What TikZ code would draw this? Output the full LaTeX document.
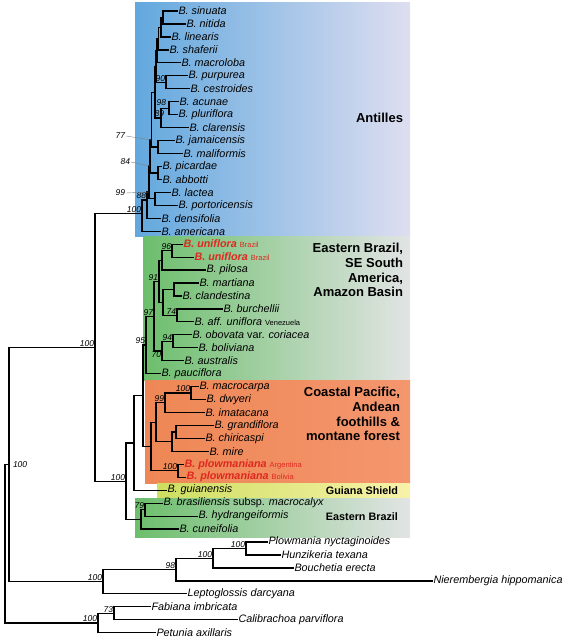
\documentclass[tikz,border=0pt]{standalone}
\usepackage{fontspec}
\setmainfont{Liberation Sans}
\definecolor{nred}{RGB}{222,40,30}
\definecolor{antL}{RGB}{98,168,222}
\definecolor{antR}{RGB}{222,222,240}
\definecolor{grnL}{RGB}{108,190,108}
\definecolor{grnR}{RGB}{226,228,228}
\definecolor{orgL}{RGB}{238,135,85}
\definecolor{orgR}{RGB}{244,150,110}
\definecolor{ylwL}{RGB}{206,222,96}
\definecolor{ylwR}{RGB}{248,242,170}
\newcommand{\place}[1]{{\fontsize{7.5}{9}\selectfont\upshape\mdseries #1}}
\begin{document}
\begin{tikzpicture}[x=1pt,y=-1pt,inner sep=0pt,outer sep=0pt,line width=1.2pt,line cap=rect,
leaf/.style={anchor=west,inner sep=1.5pt,font=\fontsize{10.8}{12}\selectfont\itshape},
redleaf/.style={leaf,text=nred,font=\fontsize{10.8}{12}\selectfont\bfseries\itshape},
bs/.style={anchor=south east,inner sep=1pt,font=\fontsize{8.5}{10}\selectfont\itshape},
region/.style={anchor=east,align=right,font=\fontsize{13}{14.7}\selectfont\bfseries},
smallregion/.style={anchor=east,font=\fontsize{10.8}{12}\selectfont\bfseries},
lead/.style={draw=gray,line width=0.4pt,line cap=butt}]
\useasboundingbox (0,0) rectangle (567,640);

% coloured clade boxes
\shade[left color=antL,right color=antR] (135,2) rectangle (410,236);
\shade[left color=grnL,right color=grnR] (143,236) rectangle (410,380);
\shade[left color=orgL,right color=orgR] (145,380) rectangle (410,483);
\shade[left color=ylwL,right color=ylwR] (157,483) rectangle (410,498);
\shade[left color=grnL,right color=grnR] (135,498) rectangle (410,537);

\draw (403,118) node[region] (antilles) {Antilles};
\draw (403,270) node[region] (ebrazil) {Eastern Brazil,\\SE South\\America,\\Amazon Basin};
\draw (400,414) node[region] (pacific) {Coastal Pacific,\\Andean\\foothills \&\\montane forest};
\draw (398,491) node[smallregion] (guiana) {Guiana Shield};
\draw (398,517) node[smallregion] (ebrazil2) {Eastern Brazil};

% Antilles
\draw (177,11.0) node[leaf] (sinuata) {B. sinuata};
\draw (185,24.0) node[leaf] (nitida) {B. nitida};
\draw (170,36.9) node[leaf] (linearis) {B. linearis};
\draw (168,49.9) node[leaf] (shaferii) {B. shaferii};
\draw (180,62.8) node[leaf] (macroloba) {B. macroloba};
\draw (187,75.8) node[leaf] (purpurea) {B. purpurea};
\draw (189,88.7) node[leaf] (cestroides) {B. cestroides};
\draw (178,101.7) node[leaf] (acunae) {B. acunae};
\draw (177,114.6) node[leaf] (pluriflora) {B. pluriflora};
\draw (188,127.6) node[leaf] (clarensis) {B. clarensis};
\draw (174,140.5) node[leaf] (jamaicensis) {B. jamaicensis};
\draw (182,153.5) node[leaf] (maliformis) {B. maliformis};
\draw (161,166.4) node[leaf] (picardae) {B. picardae};
\draw (161,179.4) node[leaf] (abbotti) {B. abbotti};
\draw (170,192.3) node[leaf] (lactea) {B. lactea};
\draw (177,205.3) node[leaf] (portoricensis) {B. portoricensis};
\draw (160,218.2) node[leaf] (densifolia) {B. densifolia};
\draw (160,231.2) node[leaf] (americana) {B. americana};

\path (163,17.5) coordinate (nsn);
\path (161,27.2) coordinate (nc1);
\path (158.5,38.6) coordinate (nc2);
\path (157,50.7) coordinate (nc3);
\path (166,82.3) coordinate (n90);
\path (156,66.5) coordinate (nc4);
\path (169,108.2) coordinate (n98a);
\path (161,117.9) coordinate (n89);
\path (155,92.2) coordinate (ncore);
\path (158,147) coordinate (njm);
\path (158,172.9) coordinate (npa);
\path (155,198.8) coordinate (nlp);
\path (151.5,140) coordinate (n77);
\path (150,166) coordinate (n84);
\path (149,192) coordinate (n99);
\path (147,200) coordinate (n88);
\path (142,213.5) coordinate (n100a);

\draw (nsn) |- (sinuata.west);
\draw (nsn) |- (nitida.west);
\draw (nc1) |- (nsn);
\draw (nc1) |- (linearis.west);
\draw (nc2) |- (nc1);
\draw (nc2) |- (shaferii.west);
\draw (nc3) |- (nc2);
\draw (nc3) |- (macroloba.west);
\draw (n90) |- (purpurea.west);
\draw (n90) |- (cestroides.west);
\draw (nc4) |- (nc3);
\draw (nc4) |- (n90);
\draw (n98a) |- (acunae.west);
\draw (n98a) |- (pluriflora.west);
\draw (n89) |- (n98a);
\draw (n89) |- (clarensis.west);
\draw (ncore) |- (nc4);
\draw (ncore) |- (n89);
\draw (njm) |- (jamaicensis.west);
\draw (njm) |- (maliformis.west);
\draw (npa) |- (picardae.west);
\draw (npa) |- (abbotti.west);
\draw (nlp) |- (lactea.west);
\draw (nlp) |- (portoricensis.west);
\draw (n77) |- (ncore);
\draw (n77) |- (njm);
\draw (n84) |- (n77);
\draw (n84) |- (npa);
\draw (n99) |- (n84);
\draw (n99) |- (nlp);
\draw (n88) |- (n99);
\draw (n88) |- (densifolia.west);
\draw (n100a) |- (n88);
\draw (n100a) |- (americana.west);

\draw (n90) node[bs] {90};
\draw (n98a) ++(-2,-1.5) node[bs] {98};
\draw (n89) ++(4,-0.5) node[bs] {89};
\draw (n88) node[bs] {88};
\draw (n100a) node[bs] {100};
\draw (126,136) node[bs,anchor=east] (l77) {77};
\draw (131,162) node[bs,anchor=east] (l84) {84};
\draw (126,193) node[bs,anchor=east] (l99) {99};
\draw[lead] (l77.east) -- (n77);
\draw[lead] (l84.east) -- (n84);
\draw[lead] (l99.east) -- (n99);

% Eastern Brazil, SE South America, Amazon Basin
\draw (182,244.1) node[redleaf] (uniflora1) {B. uniflora \place{Brazil}};
\draw (193,257.1) node[redleaf] (uniflora2) {B. uniflora \place{Brazil}};
\draw (205,270.0) node[leaf] (pilosa) {B. pilosa};
\draw (198,283.0) node[leaf] (martiana) {B. martiana};
\draw (181,295.9) node[leaf] (clandestina) {B. clandestina};
\draw (222,308.9) node[leaf] (burchellii) {B. burchellii};
\draw (193,321.8) node[leaf] (affuniflora) {B. aff. uniflora \place{Venezuela}};
\draw (191,334.8) node[leaf] (obovata) {B. obovata {\upshape var.} coriacea};
\draw (197,347.7) node[leaf] (boliviana) {B. boliviana};
\draw (183,360.7) node[leaf] (australis) {B. australis};
\draw (160,373.6) node[leaf] (pauciflora) {B. pauciflora};

\path (172,250.6) coordinate (n96);
\path (162,260.3) coordinate (nup);
\path (174,289.5) coordinate (nmc);
\path (177,315.4) coordinate (n74);
\path (163,302.4) coordinate (nrest);
\path (159,281.4) coordinate (n91);
\path (173,341.3) coordinate (n94);
\path (162,351) coordinate (n70);
\path (154,316.2) coordinate (n97);
\path (146,345) coordinate (n95);

\draw (n96) |- (uniflora1.west);
\draw (n96) |- (uniflora2.west);
\draw (nup) |- (n96);
\draw (nup) |- (pilosa.west);
\draw (nmc) |- (martiana.west);
\draw (nmc) |- (clandestina.west);
\draw (n74) |- (burchellii.west);
\draw (n74) |- (affuniflora.west);
\draw (nrest) |- (nmc);
\draw (nrest) |- (n74);
\draw (n91) |- (nup);
\draw (n91) |- (nrest);
\draw (n94) |- (obovata.west);
\draw (n94) |- (boliviana.west);
\draw (n70) |- (n94);
\draw (n70) |- (australis.west);
\draw (n97) |- (n91);
\draw (n97) |- (n70);
\draw (n95) |- (n97);
\draw (n95) |- (pauciflora.west);

\draw (n96) node[bs] {96};
\draw (n91) node[bs] {91};
\draw (n74) node[bs] {74};
\draw (n94) node[bs] {94};
\draw (n70) node[bs,anchor=north east] {70};
\draw (n97) node[bs] {97};
\draw (n95) node[bs] {95};

% Coastal Pacific, Andean foothills
\draw (198,386.6) node[leaf] (macrocarpa) {B. macrocarpa};
\draw (205,399.5) node[leaf] (dwyeri) {B. dwyeri};
\draw (204,412.5) node[leaf] (imatacana) {B. imatacana};
\draw (213,425.4) node[leaf] (grandiflora) {B. grandiflora};
\draw (204,438.4) node[leaf] (chiricaspi) {B. chiricaspi};
\draw (208,451.3) node[leaf] (mire) {B. mire};
\draw (183,464.3) node[redleaf] (plowarg) {B. plowmaniana \place{Argentina}};
\draw (185,477.2) node[redleaf] (plowbol) {B. plowmaniana \place{Bolivia}};

\path (191,393) coordinate (n100m);
\path (165,402.8) coordinate (n99o);
\path (176,431.9) coordinate (ngc);
\path (172,441.6) coordinate (ngcm);
\path (156,422.2) coordinate (noa);
\path (178,470.8) coordinate (n100p);
\path (151,446.5) coordinate (nor);
\path (143,395.8) coordinate (nbig);

\draw (n100m) |- (macrocarpa.west);
\draw (n100m) |- (dwyeri.west);
\draw (n99o) |- (n100m);
\draw (n99o) |- (imatacana.west);
\draw (ngc) |- (grandiflora.west);
\draw (ngc) |- (chiricaspi.west);
\draw (ngcm) |- (ngc);
\draw (ngcm) |- (mire.west);
\draw (noa) |- (n99o);
\draw (noa) |- (ngcm);
\draw (n100p) |- (plowarg.west);
\draw (n100p) |- (plowbol.west);
\draw (nor) |- (noa);
\draw (nor) |- (n100p);
\draw (nbig) |- (n95);
\draw (nbig) |- (nor);

\draw (n100m) node[bs] {100};
\draw (n99o) node[bs] {99};
\draw (n100p) node[bs] {100};

% Guiana Shield and Eastern Brazil
\draw (166,490.2) node[leaf] (guianensis) {B. guianensis};
\draw (162,503.1) node[leaf] (brasiliensis) {B. brasiliensis {\upshape subsp.} macrocalyx};
\draw (197,516.1) node[leaf] (hydrangeiformis) {B. hydrangeiformis};
\draw (178,529.0) node[leaf] (cuneifolia) {B. cuneifolia};

\path (134,443) coordinate (nin);
\path (145,509.6) coordinate (n79);
\path (141,519.3) coordinate (neb);
\path (126,481.2) coordinate (n100b);
\path (95,347.3) coordinate (ning);

\draw (nin) |- (nbig);
\draw (nin) |- (guianensis.west);
\draw (n79) |- (brasiliensis.west);
\draw (n79) |- (hydrangeiformis.west);
\draw (neb) |- (n79);
\draw (neb) |- (cuneifolia.west);
\draw (n100b) |- (nin);
\draw (n100b) |- (neb);
\draw (ning) |- (n100a);
\draw (ning) |- (n100b);

\draw (n79) node[bs] {79};
\draw (n100b) node[bs] {100};
\draw (ning) node[bs] {100};

% outgroups
\draw (267,542.0) node[leaf] (plowmania) {Plowmania nyctaginoides};
\draw (280,555.0) node[leaf] (hunzikeria) {Hunzikeria texana};
\draw (293,567.9) node[leaf] (bouchetia) {Bouchetia erecta};
\draw (432,580.9) node[leaf] (nierembergia) {Nierembergia hippomanica};
\draw (186,593.8) node[leaf] (leptoglossis) {Leptoglossis darcyana};
\draw (150,606.8) node[leaf] (fabiana) {Fabiana imbricata};
\draw (237,619.7) node[leaf] (calibrachoa) {Calibrachoa parviflora};
\draw (155,632.7) node[leaf] (petunia) {Petunia axillaris};

\path (246,548.5) coordinate (n100pl);
\path (213,558.2) coordinate (n100h);
\path (176,569.6) coordinate (n98o);
\path (103,581.7) coordinate (n100o);
\path (9,464.5) coordinate (ntop);
\path (114,613.3) coordinate (n73);
\path (98,623) coordinate (nph);
\path (5,543.7) coordinate (root);

\draw (n100pl) |- (plowmania.west);
\draw (n100pl) |- (hunzikeria.west);
\draw (n100h) |- (n100pl);
\draw (n100h) |- (bouchetia.west);
\draw (n98o) |- (n100h);
\draw (n98o) |- (nierembergia.west);
\draw (n100o) |- (n98o);
\draw (n100o) |- (leptoglossis.west);
\draw (ntop) |- (ning);
\draw (ntop) |- (n100o);
\draw (n73) |- (fabiana.west);
\draw (n73) |- (calibrachoa.west);
\draw (nph) |- (n73);
\draw (nph) |- (petunia.west);
\draw (root) |- (ntop);
\draw (root) |- (nph);

\draw (n100pl) node[bs] {100};
\draw (n100h) node[bs] {100};
\draw (n98o) node[bs] {98};
\draw (n100o) node[bs] {100};
\draw (ntop) node[bs,anchor=west,xshift=3pt] {100};
\draw (n73) node[bs] {73};
\draw (nph) node[bs] {100};
\end{tikzpicture}
\end{document}
